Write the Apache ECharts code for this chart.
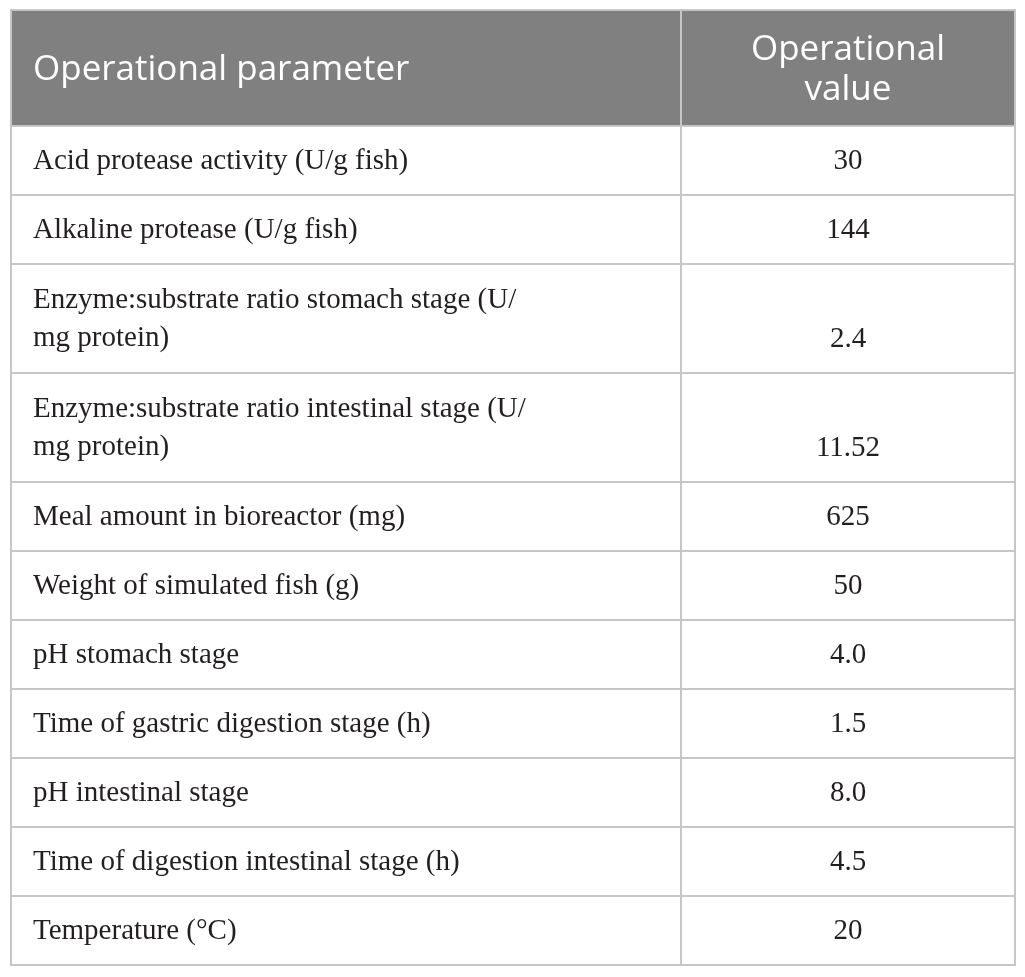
<!DOCTYPE html>
<html>
<head>
<meta charset="utf-8">
<script src="https://cdn.jsdelivr.net/npm/echarts@6/dist/echarts.min.js"></script>
<style>
html,body{margin:0;padding:0;background:#fff;}
#chart{width:1025px;height:977px;}
</style>
</head>
<body>
<div id="chart"></div>
<script>
// ---- table content ----
const headers = ['Operational parameter', 'Operational\nvalue'];
const parameters = [
  'Acid protease activity (U/g fish)',
  'Alkaline protease (U/g fish)',
  'Enzyme:substrate ratio stomach stage (U/\nmg protein)',
  'Enzyme:substrate ratio intestinal stage (U/\nmg protein)',
  'Meal amount in bioreactor (mg)',
  'Weight of simulated fish (g)',
  'pH stomach stage',
  'Time of gastric digestion stage (h)',
  'pH intestinal stage',
  'Time of digestion intestinal stage (h)',
  'Temperature (°C)'
];
const values = ['30', '144', '2.4', '11.52', '625', '50', '4.0', '1.5', '8.0', '4.5', '20'];

// ---- layout (code constants) ----
const W = 1004, H = 956;
const colEdges = [0, 670, W];
const HEADER_H = 116;
const ROW_UNIT = 40;
const ROW_PAD = 29;
const TEXT_LH = 38;
const BORDER = '#c6c6c6';
const HEAD_BG = '#808080';
const TXT = '#231f20';
const SERIF = '"Liberation Serif", "DejaVu Serif", serif';
const SANS = '"Open Sans", "Noto Sans", sans-serif';

function lineCount(s) { return s.split('\n').length; }

const cells = [];
cells.push({ value: [colEdges[0], 0, colEdges[1], HEADER_H], kind: 'hp', text: headers[0] });
cells.push({ value: [colEdges[1], 0, colEdges[2], HEADER_H], kind: 'hv', text: headers[1] });
let y = HEADER_H;
parameters.forEach((p, i) => {
  const h = ROW_PAD + ROW_UNIT * lineCount(p);
  cells.push({ value: [colEdges[0], y, colEdges[1], y + h], kind: 'bp', text: p });
  cells.push({ value: [colEdges[1], y, colEdges[2], y + h], kind: 'bv', text: values[i] });
  y += h;
});

const chart = echarts.init(document.getElementById('chart'), null, { renderer: 'canvas' });
chart.setOption({
  animation: false,
  grid: { left: 11, top: 10, width: W, height: H, containLabel: false },
  xAxis: { type: 'value', min: 0, max: W, show: false },
  yAxis: { type: 'value', min: 0, max: H, inverse: true, show: false },
  series: [{
    type: 'custom',
    coordinateSystem: 'cartesian2d',
    data: cells,
    renderItem: function (params, api) {
      const c = cells[params.dataIndex];
      const p0 = api.coord([api.value(0), api.value(1)]);
      const p1 = api.coord([api.value(2), api.value(3)]);
      const x0 = p0[0], y0 = p0[1], x1 = p1[0], y1 = p1[1];
      const isHead = c.kind[0] === 'h';
      const children = [{
        type: 'rect',
        shape: { x: x0, y: y0, width: x1 - x0, height: y1 - y0 },
        style: { fill: isHead ? HEAD_BG : '#ffffff', stroke: BORDER, lineWidth: 2 }
      }];
      let tx, ty, align, font, lh, fill;
      if (isHead) {
        font = '35px ' + SANS; fill = '#ffffff'; lh = 40;
        ty = (y0 + y1) / 2 + 2;
        if (c.kind === 'hp') { tx = x0 + 22; align = 'left'; }
        else { tx = (x0 + x1) / 2; align = 'center'; }
      } else {
        font = '29px ' + SERIF; fill = TXT; lh = TEXT_LH;
        if (c.kind === 'bp') {
          tx = x0 + 22; align = 'left';
          ty = (y0 + y1) / 2 + 1;
        } else {
          tx = (x0 + x1) / 2; align = 'center';
          ty = y1 - 34;
        }
      }
      children.push({
        type: 'text',
        style: { text: c.text, x: tx, y: ty, align: align, verticalAlign: 'middle', font: font, fill: fill, lineHeight: lh }
      });
      return { type: 'group', children: children };
    }
  }]
});
</script>
</body>
</html>
